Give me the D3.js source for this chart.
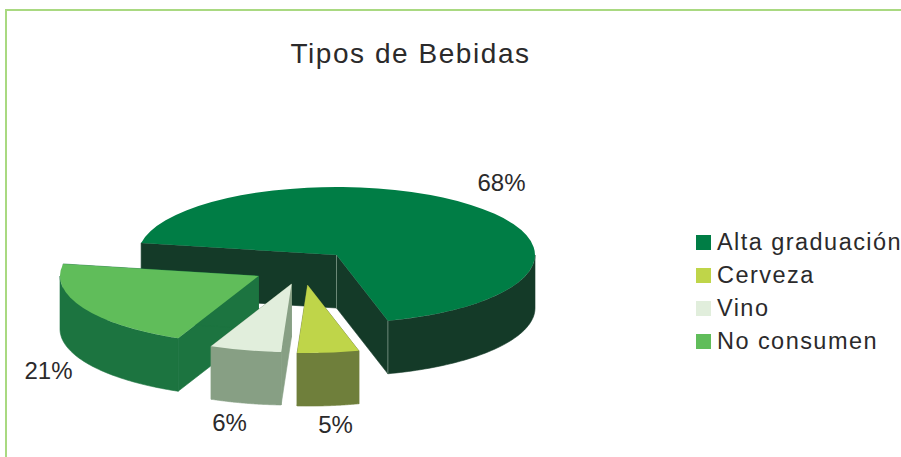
<!DOCTYPE html>
<html><head><meta charset="utf-8">
<script src="https://cdn.jsdelivr.net/npm/d3@7"></script>
<style>html,body{margin:0;padding:0;background:#fff}svg{display:block}text{font-family:"Liberation Sans",Arial,sans-serif;fill:#2b2a2b}</style>
</head><body><div id="chart"></div>
<script>
const categories = ["Alta graduación", "Cerveza", "Vino", "No consumen"];
const values = [68, 5, 5.8, 21.2];
const topColors = ["#007d45", "#bfd549", "#e1eedc", "#60bd5a"];
const wallColors = ["#143a28", "#6f7f3b", "#879f84", "#1c7440"];
const explodeX = [0, -29, -45, -78];
const explodeY = [0, 30, 29, 21];
const labelX = [501.5, 335.5, 229.5, 48.5];
const labelY = [191, 433, 431, 379];

const W = 901, H = 457, cx = 336.5, cy = 255, rx = 198.5, tilt = 0.343, depth = 53;
const svg = d3.select("#chart").append("svg").attr("width", W).attr("height", H);

svg.append("path").attr("fill", "none").attr("stroke", "#a9d981").attr("stroke-width", 2)
  .attr("d", d3.line()([[6, H], [6, 10], [W, 10]]));

svg.append("text").attr("x", 410.5).attr("y", 63).attr("text-anchor", "middle")
  .attr("font-size", 28).attr("letter-spacing", 1.55).text("Tipos de Bebidas");

const start = 280.2 * Math.PI / 180;
const slices = d3.pie().sort(null).startAngle(start).endAngle(start + 2 * Math.PI)(values);
const arc = d3.arc().innerRadius(0).outerRadius(rx);
const project = (a, drop) => [rx * Math.sin(a), -rx * tilt * Math.cos(a) + drop];
const line = d3.line();

const g = svg.selectAll("g.slice").data(slices).join("g").attr("class", "slice")
  .attr("transform", (d, i) => `translate(${cx + explodeX[i]},${cy + explodeY[i]})`);

g.each(function (d, i) {
  const sel = d3.select(this);
  const wall = path => sel.append("path").attr("fill", wallColors[i])
    .attr("stroke", wallColors[i]).attr("stroke-width", 0.6).attr("d", path);
  // cut faces
  [d.startAngle, d.endAngle].forEach(a => {
    const p = project(a, 0), q = project(a, depth);
    wall(line([[0, 0], p, q, [0, depth]]) + "Z");
  });
  // outer rim: only the part facing the viewer
  const turn = 2 * Math.PI;
  for (let k = -1; k <= 1; k++) {
    const lo = Math.max(d.startAngle, Math.PI / 2 + k * turn);
    const hi = Math.min(d.endAngle, 3 * Math.PI / 2 + k * turn);
    if (hi <= lo) continue;
    const as = d3.range(0, 61).map(t => lo + (hi - lo) * t / 60);
    const pts = as.map(a => project(a, 0)).concat(as.slice().reverse().map(a => project(a, depth)));
    wall(line(pts) + "Z");
  }
  sel.append("path").attr("fill", topColors[i])
    .attr("transform", `scale(1,${tilt})`).attr("d", arc(d));
  if (i === 0) {
    const e = project(d.endAngle, 0);
    sel.append("path").attr("stroke", "#7f9a8a").attr("stroke-width", 0.8).attr("fill", "none")
      .attr("d", line([[0, 0], [0, depth]]) + line([e, [e[0], e[1] + depth]]));
  }
});
// paint order: back slice first, then left slice, then the two front wedges
g.filter((d, i) => i === 3).lower();
g.filter((d, i) => i === 0).lower();
svg.select("path").lower();

svg.selectAll("text.pct").data(values).join("text").attr("class", "pct")
  .attr("x", (d, i) => labelX[i]).attr("y", (d, i) => labelY[i])
  .attr("text-anchor", "middle").attr("font-size", 24).text(d => Math.round(d) + "%");

const legendY = d3.scalePoint().domain(categories).range([242.5, 341.5]);
const lg = svg.selectAll("g.leg").data(categories).join("g").attr("class", "leg")
  .attr("transform", d => `translate(696,${legendY(d)})`);
lg.append("rect").attr("x", 0).attr("y", -7.5).attr("width", 15).attr("height", 15)
  .attr("fill", (d, i) => topColors[i]);
lg.append("text").attr("x", 21).attr("y", 7).attr("font-size", 23.5)
  .attr("letter-spacing", 1.45).text(d => d);
</script></body></html>
